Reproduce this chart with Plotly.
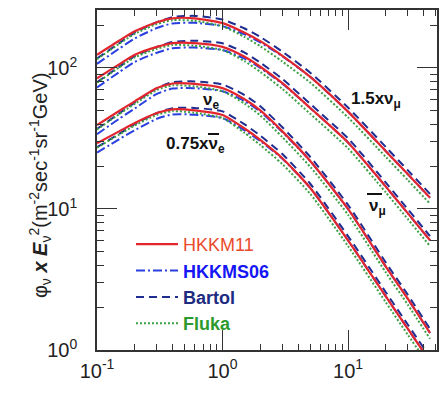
import plotly.graph_objects as go

# Neutrino energy grid (GeV)
energy = [0.1, 0.15, 0.2, 0.3, 0.4, 0.6, 1.0, 1.5, 2, 3, 5, 10, 20, 30, 45]

# Group 1: 1.5 x nu_mu
numu15_hkkm11 = [124, 156, 182, 211, 225, 225, 208, 178, 155, 122, 86.5, 49, 25.7, 17.6, 12]
numu15_hkkms06 = [107, 137, 162, 192, 207, 209, 198, 173, 152, 121, 86.5, 49, 25.7, 17.6, 12]
numu15_bartol = [116.6, 149.8, 178.4, 211, 229.5, 234, 220.5, 190.5, 165.9, 130.5, 92.6, 52.4, 27.5, 18.8, 12.8]
numu15_fluka = [115.3, 148.2, 174.7, 204.7, 218.3, 216, 197.6, 165.5, 142.6, 111, 78.7, 44.6, 23.4, 16, 10.9]

# Group 2: anti nu_mu
numubar_hkkm11 = [84.5, 106, 124, 141, 150, 150, 141, 120, 102, 78, 52, 29.6, 14.4, 9.3, 6.0]
numubar_hkkms06 = [72.7, 93.3, 110.4, 128.3, 138, 139.5, 134, 116.4, 100, 77.2, 52, 29.6, 14.4, 9.3, 6.0]
numubar_bartol = [79.4, 101.8, 121.5, 141, 153, 156, 149.5, 128.4, 109.1, 83.5, 55.6, 31.7, 15.4, 9.95, 6.42]
numubar_fluka = [78.6, 100.7, 119, 136.8, 145.5, 144, 134, 111.6, 93.8, 71, 47.3, 26.9, 13.1, 8.46, 5.46]

# Group 3: nu_e
nue_hkkm11 = [39.4, 49.5, 58, 72, 77.6, 77.2, 72, 60, 50, 35.5, 21.9, 10, 3.9, 2.3, 1.32]
nue_hkkms06 = [33.9, 43.6, 51.6, 65.5, 71.4, 71.8, 68.4, 58.2, 49, 35.1, 21.9, 10, 3.9, 2.3, 1.32]
nue_bartol = [37, 47.5, 56.8, 72, 79.2, 80.3, 76.3, 64.2, 53.5, 38, 23.4, 10.7, 4.17, 2.46, 1.41]
nue_fluka = [36.6, 47, 55.7, 69.8, 75.3, 74.1, 68.4, 55.8, 46, 32.3, 19.9, 9.1, 3.55, 2.09, 1.2]

# Group 4: 0.75 x anti nu_e
nuebar075_hkkm11 = [29.2, 35.5, 40.7, 47.9, 50.9, 50.1, 46.4, 37.2, 30.9, 22.9, 14.1, 6.0, 2.4, 1.41, 0.83]
nuebar075_hkkms06 = [25.1, 31.2, 36.2, 43.6, 46.8, 46.6, 44.1, 36.1, 30.3, 22.7, 14.1, 6.0, 2.4, 1.41, 0.83]
nuebar075_bartol = [27.4, 34.1, 39.9, 47.9, 51.9, 52.1, 49.2, 39.8, 33.1, 24.5, 15.1, 6.42, 2.57, 1.51, 0.89]
nuebar075_fluka = [27.2, 33.7, 39.1, 46.5, 49.4, 48.1, 44.1, 34.6, 28.4, 20.8, 12.8, 5.46, 2.18, 1.28, 0.76]

models = ["HKKMS06", "Bartol", "Fluka", "HKKM11"]
groups = {
    "HKKM11": [numu15_hkkm11, numubar_hkkm11, nue_hkkm11, nuebar075_hkkm11],
    "HKKMS06": [numu15_hkkms06, numubar_hkkms06, nue_hkkms06, nuebar075_hkkms06],
    "Bartol": [numu15_bartol, numubar_bartol, nue_bartol, nuebar075_bartol],
    "Fluka": [numu15_fluka, numubar_fluka, nue_fluka, nuebar075_fluka],
}

style = {
    "HKKM11": dict(color="#e3262e", dash="solid", width=2.2, text="#ea4a2c", bold=False, rank=1),
    "HKKMS06": dict(color="#2b3fe0", dash="9px,3px,2px,3px", width=2.0, text="#1515f5", bold=True, rank=2),
    "Bartol": dict(color="#1f2d90", dash="8px,5px", width=2.0, text="#1d2b80", bold=True, rank=3),
    "Fluka": dict(color="#3aa043", dash="2px,2px", width=2.0, text="#2c9a2c", bold=True, rank=4),
}

fig = go.Figure()
for m in models:
    s = style[m]
    label = f"<b>{m}</b>" if s["bold"] else m
    for i, series in enumerate(groups[m]):
        fig.add_trace(go.Scatter(
            x=energy, y=series, mode="lines",
            line=dict(color=s["color"], dash=s["dash"], width=s["width"], shape="spline", smoothing=0.6),
            name=f"<span style='color:{s['text']}'>{label}</span>",
            legendgroup=m, legendrank=s["rank"],
            showlegend=(i == 0),
        ))

font_family = "Liberation Sans, Arial, Helvetica, sans-serif"
minor_x = [0.2, 0.3, 0.4, 0.5, 0.6, 0.7, 0.8, 0.9, 2, 3, 4, 5, 6, 7, 8, 9, 20, 30, 40, 50]
minor_y = [2, 3, 4, 5, 6, 7, 8, 9, 20, 30, 40, 50, 60, 70, 80, 90, 200]

fig.update_xaxes(
    type="log", range=[-1.0, 1.709], automargin=False,
    tickmode="array", tickvals=[0.1, 1, 10],
    ticktext=["10<sup>-1</sup>", "10<sup>0</sup>", "10<sup>1</sup>"],
    ticks="inside", ticklen=20, tickwidth=1, tickcolor="#333",
    minor=dict(tickmode="array", tickvals=minor_x, ticks="inside", ticklen=6, tickcolor="#333", showgrid=False),
    showline=True, linewidth=1.5, linecolor="#333", mirror="ticks",
    showgrid=False, zeroline=False,
    tickfont=dict(size=20, color="#222", family=font_family),
    ticklabelstandoff=2,
)
fig.update_yaxes(
    type="log", range=[0, 2.411], automargin=False,
    tickmode="array", tickvals=[1, 10, 100],
    ticktext=["10<sup>0</sup>", "10<sup>1</sup>", "10<sup>2</sup>"],
    ticks="inside", ticklen=20, tickwidth=1, tickcolor="#333",
    minor=dict(tickmode="array", tickvals=minor_y, ticks="inside", ticklen=7, tickcolor="#333", showgrid=False),
    showline=True, linewidth=1.5, linecolor="#333", mirror="ticks",
    showgrid=False, zeroline=False,
    tickfont=dict(size=20, color="#222", family=font_family),
    ticklabelstandoff=14,
)

ann_font = dict(size=17, color="#111", family=font_family)
def label(x, y, text):
    fig.add_annotation(xref="paper", yref="paper", x=x, y=y, text=text, xanchor="center",
                       yanchor="middle", showarrow=False, font=ann_font)

label(0.82, 0.735, "<b>1.5xν<sub>μ</sub></b>")
label(0.826, 0.42, "<b>ν<sub>μ</sub></b>")
label(0.335, 0.732, "<b>ν<sub>e</sub></b>")
label(0.291, 0.603, "<b>0.75xν<sub>e</sub></b>")

# overbars for anti-neutrinos
fig.add_shape(type="line", xref="paper", yref="paper", x0=(367 - 97) / 340, x1=(382 - 97) / 340,
              y0=(350 - 194) / 340, y1=(350 - 194) / 340, line=dict(color="#111", width=2))
fig.add_shape(type="line", xref="paper", yref="paper", x0=(208 - 97) / 340, x1=(219 - 97) / 340,
              y0=(350 - 134) / 340, y1=(350 - 134) / 340, line=dict(color="#111", width=2))

# y-axis title
fig.add_annotation(
    xref="paper", yref="paper", x=(40 - 97) / 340, y=0.485, xanchor="center", yanchor="middle",
    textangle=-90, showarrow=False,
    text="φ<sub>ν</sub> <b><i>x E</i></b><sub>ν</sub><sup>2</sup>(m<sup>-2</sup>sec<sup>-1</sup>sr<sup>-1</sup>GeV)",
    font=dict(size=20, color="#222", family=font_family),
)
# x-axis title (mostly below the visible window, as in the reference)
fig.add_annotation(
    xref="paper", yref="paper", x=0.5, y=-(390 - 350) / 340, xanchor="center", yanchor="top",
    showarrow=False, text="E<sub>ν</sub> (GeV)",
    font=dict(size=20, color="#222", family=font_family),
)

fig.update_layout(
    width=443, height=394,
    margin=dict(l=97, r=6, t=10, b=44, autoexpand=False),
    paper_bgcolor="white", plot_bgcolor="white",
    showlegend=True,
    legend=dict(
        x=0.10, y=0.365, xanchor="left", yanchor="top",
        bgcolor="rgba(0,0,0,0)", borderwidth=0,
        font=dict(size=18, family=font_family),
        itemwidth=42, tracegroupgap=0,
    ),
)

fig.write_html("out.html")
